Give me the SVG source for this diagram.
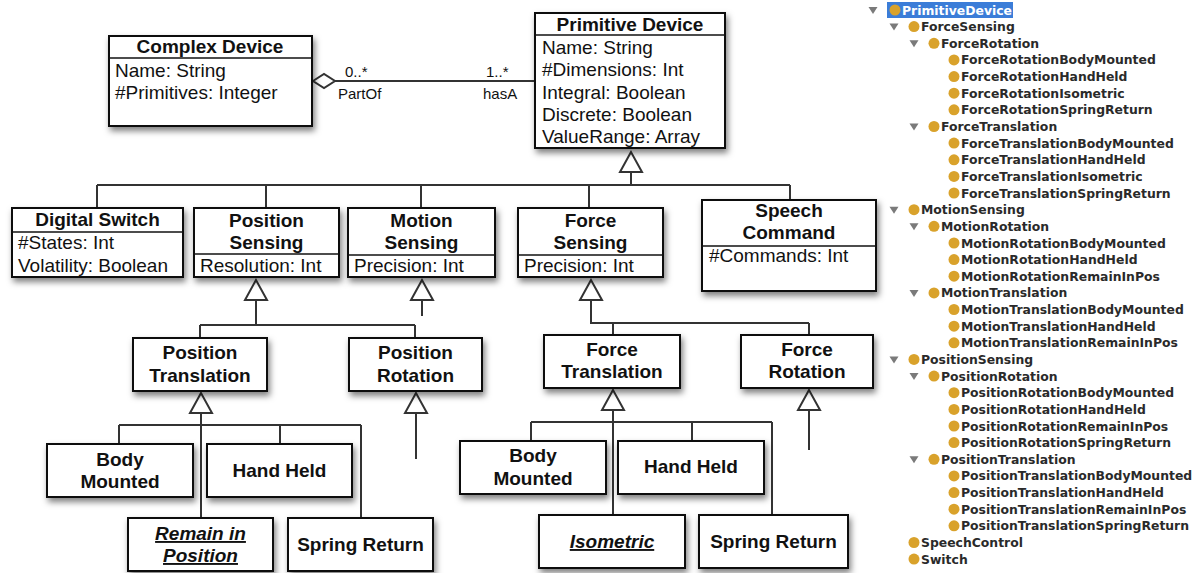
<svg xmlns="http://www.w3.org/2000/svg" width="1202" height="573" viewBox="0 0 1202 573">
  <defs>
    <filter id="shadow" x="-10%" y="-10%" width="130%" height="140%">
      <feDropShadow dx="2" dy="4" stdDeviation="3" flood-color="#000" flood-opacity="0.5"/>
    </filter>
    <style>
      .box { fill: #fff; stroke: #111; stroke-width: 2; }
      .div { stroke: #111; stroke-width: 1.6; }
      .title { font-family: "Liberation Sans", Arial, sans-serif; font-weight: bold; font-size: 19px; fill: #111; text-anchor: middle; }
      .attr { font-family: "Liberation Sans", Arial, sans-serif; font-size: 19px; fill: #111; }
      .em { font-style: italic; text-decoration: underline; }
      .lbl { font-family: "Liberation Sans", Arial, sans-serif; font-size: 15px; fill: #111; }
      .wire { fill: none; stroke: #333; stroke-width: 2; }
      .gen { fill: #fff; stroke: #333; stroke-width: 2; stroke-linejoin: miter; }
      .tree { font-family: "DejaVu Sans", sans-serif; font-weight: bold; font-size: 12.4px; fill: #2a2a2a; }
      .dot { fill: #d9a22b; }
      .twisty { fill: #7a7a7a; }
    </style>
  </defs>

  <rect width="1202" height="573" fill="#fff"/>

  <!-- connectors: association and generalization trees -->
  <g id="connectors">
    <!-- Complex Device <>— Primitive Device -->
    <line class="wire" x1="335" y1="81" x2="535" y2="81"/>
    <polygon class="gen" points="313,81 324,74 335,81 324,88"/>
    <text class="lbl" x="345" y="77">0..*</text>
    <text class="lbl" x="338" y="99">PartOf</text>
    <text class="lbl" x="486" y="77">1..*</text>
    <text class="lbl" x="483" y="99">hasA</text>

    <!-- Primitive Device specializations -->
    <polyline class="wire" points="631,172 631,185"/>
    <line class="wire" x1="97" y1="185" x2="790" y2="185"/>
    <line class="wire" x1="97" y1="185" x2="97" y2="208"/>
    <line class="wire" x1="266" y1="185" x2="266" y2="208"/>
    <line class="wire" x1="421" y1="185" x2="421" y2="208"/>
    <line class="wire" x1="589" y1="185" x2="589" y2="208"/>
    <line class="wire" x1="790" y1="185" x2="790" y2="200"/>
    <polygon class="gen" points="631,152 620,172 642,172"/>

    <!-- Position Sensing -->
    <polyline class="wire" points="256,300 256,325"/>
    <line class="wire" x1="200" y1="325" x2="415" y2="325"/>
    <line class="wire" x1="200" y1="325" x2="200" y2="338"/>
    <line class="wire" x1="415" y1="325" x2="415" y2="338"/>
    <polygon class="gen" points="256,280 245,300 267,300"/>

    <!-- Motion Sensing -->
    <line class="wire" x1="422" y1="300" x2="422" y2="316"/>
    <polygon class="gen" points="422,280 411,300 433,300"/>

    <!-- Force Sensing -->
    <polyline class="wire" points="591,300 591,323 809,323"/>
    <line class="wire" x1="613" y1="323" x2="613" y2="335"/>
    <line class="wire" x1="809" y1="323" x2="809" y2="335"/>
    <polygon class="gen" points="591,280 580,300 602,300"/>

    <!-- Position Translation -->
    <line class="wire" x1="201" y1="413" x2="201" y2="518"/>
    <line class="wire" x1="119" y1="425" x2="361" y2="425"/>
    <line class="wire" x1="119" y1="425" x2="119" y2="444"/>
    <line class="wire" x1="280" y1="425" x2="280" y2="444"/>
    <line class="wire" x1="361" y1="425" x2="361" y2="518"/>
    <polygon class="gen" points="201,393 190,413 212,413"/>

    <!-- Position Rotation -->
    <line class="wire" x1="416" y1="413" x2="416" y2="459"/>
    <polygon class="gen" points="416,393 405,413 427,413"/>

    <!-- Force Translation -->
    <line class="wire" x1="613" y1="410" x2="613" y2="515"/>
    <line class="wire" x1="531" y1="422" x2="772" y2="422"/>
    <line class="wire" x1="531" y1="422" x2="531" y2="441"/>
    <line class="wire" x1="692" y1="422" x2="692" y2="441"/>
    <line class="wire" x1="772" y1="422" x2="772" y2="515"/>
    <polygon class="gen" points="613,390 602,410 624,410"/>

    <!-- Force Rotation -->
    <line class="wire" x1="809" y1="410" x2="809" y2="450"/>
    <polygon class="gen" points="809,390 798,410 820,410"/>
  </g>

  <!-- classes -->
  <g id="complex-device">
    <rect class="box" x="109" y="36" width="203" height="90" filter="url(#shadow)"/>
    <line class="div" x1="109" y1="58" x2="312" y2="58"/>
    <text class="title" x="210" y="53">Complex Device</text>
    <text class="attr" x="115" y="77">Name: String</text>
    <text class="attr" x="115" y="99">#Primitives: Integer</text>
  </g>

  <g id="primitive-device">
    <rect class="box" x="535" y="13" width="190" height="135" filter="url(#shadow)"/>
    <line class="div" x1="535" y1="35" x2="725" y2="35"/>
    <text class="title" x="630" y="31">Primitive Device</text>
    <text class="attr" x="542" y="54">Name: String</text>
    <text class="attr" x="542" y="76">#Dimensions: Int</text>
    <text class="attr" x="542" y="99">Integral: Boolean</text>
    <text class="attr" x="542" y="121">Discrete: Boolean</text>
    <text class="attr" x="542" y="143">ValueRange: Array</text>
  </g>

  <g id="digital-switch">
    <rect class="box" x="12" y="208" width="171" height="69" filter="url(#shadow)"/>
    <line class="div" x1="12" y1="232" x2="183" y2="232"/>
    <text class="title" x="97.5" y="226">Digital Switch</text>
    <text class="attr" x="18" y="249">#States: Int</text>
    <text class="attr" x="18" y="272">Volatility: Boolean</text>
  </g>

  <g id="position-sensing">
    <rect class="box" x="194" y="208" width="145" height="69" filter="url(#shadow)"/>
    <line class="div" x1="194" y1="254" x2="339" y2="254"/>
    <text class="title" x="266.5" y="227">Position</text>
    <text class="title" x="266.5" y="249">Sensing</text>
    <text class="attr" x="200" y="272">Resolution: Int</text>
  </g>

  <g id="motion-sensing">
    <rect class="box" x="348" y="208" width="147" height="69" filter="url(#shadow)"/>
    <line class="div" x1="348" y1="255" x2="495" y2="255"/>
    <text class="title" x="421.5" y="227">Motion</text>
    <text class="title" x="421.5" y="249">Sensing</text>
    <text class="attr" x="354" y="272">Precision: Int</text>
  </g>

  <g id="force-sensing">
    <rect class="box" x="518" y="208" width="145" height="69" filter="url(#shadow)"/>
    <line class="div" x1="518" y1="255" x2="663" y2="255"/>
    <text class="title" x="590.5" y="227">Force</text>
    <text class="title" x="590.5" y="249">Sensing</text>
    <text class="attr" x="524" y="272">Precision: Int</text>
  </g>

  <g id="speech-command">
    <rect class="box" x="702" y="200" width="174" height="91" filter="url(#shadow)"/>
    <line class="div" x1="702" y1="246" x2="876" y2="246"/>
    <text class="title" x="789" y="217">Speech</text>
    <text class="title" x="789" y="239">Command</text>
    <text class="attr" x="709" y="262">#Commands: Int</text>
  </g>

  <g id="position-translation">
    <rect class="box" x="133" y="338" width="134" height="53" filter="url(#shadow)"/>
    <text class="title" x="200" y="359">Position</text>
    <text class="title" x="200" y="382">Translation</text>
  </g>

  <g id="position-rotation">
    <rect class="box" x="349" y="338" width="133" height="53" filter="url(#shadow)"/>
    <text class="title" x="415.5" y="359">Position</text>
    <text class="title" x="415.5" y="382">Rotation</text>
  </g>

  <g id="force-translation">
    <rect class="box" x="544" y="335" width="136" height="53" filter="url(#shadow)"/>
    <text class="title" x="612" y="356">Force</text>
    <text class="title" x="612" y="378">Translation</text>
  </g>

  <g id="force-rotation">
    <rect class="box" x="741" y="335" width="132" height="53" filter="url(#shadow)"/>
    <text class="title" x="807" y="356">Force</text>
    <text class="title" x="807" y="378">Rotation</text>
  </g>

  <g id="pos-body-mounted">
    <rect class="box" x="47" y="444" width="146" height="53" filter="url(#shadow)"/>
    <text class="title" x="120" y="466">Body</text>
    <text class="title" x="120" y="488">Mounted</text>
  </g>

  <g id="pos-hand-held">
    <rect class="box" x="207" y="444" width="145" height="53" filter="url(#shadow)"/>
    <text class="title" x="279.5" y="477">Hand Held</text>
  </g>

  <g id="pos-remain-in-position">
    <rect class="box" x="128" y="518" width="145" height="53" filter="url(#shadow)"/>
    <text class="title em" x="200.5" y="540">Remain in</text>
    <text class="title em" x="200.5" y="562">Position</text>
  </g>

  <g id="pos-spring-return">
    <rect class="box" x="288" y="518" width="145" height="53" filter="url(#shadow)"/>
    <text class="title" x="360.5" y="551">Spring Return</text>
  </g>

  <g id="force-body-mounted">
    <rect class="box" x="460" y="441" width="146" height="53" filter="url(#shadow)"/>
    <text class="title" x="533" y="462">Body</text>
    <text class="title" x="533" y="485">Mounted</text>
  </g>

  <g id="force-hand-held">
    <rect class="box" x="618" y="441" width="146" height="53" filter="url(#shadow)"/>
    <text class="title" x="691" y="473">Hand Held</text>
  </g>

  <g id="force-isometric">
    <rect class="box" x="539" y="515" width="146" height="53" filter="url(#shadow)"/>
    <text class="title em" x="612" y="548">Isometric</text>
  </g>

  <g id="force-spring-return">
    <rect class="box" x="699" y="515" width="149" height="53" filter="url(#shadow)"/>
    <text class="title" x="773.5" y="548">Spring Return</text>
  </g>

  <!-- class hierarchy outline -->
  <g id="hierarchy">
    <rect x="887" y="2" width="126" height="16" fill="#3b7dd8"/>
    <polygon class="twisty" points="868.5,7 877.5,7 873,14"/>
    <circle class="dot" cx="895" cy="10" r="5.5"/>
    <text class="tree" x="902" y="14.5" fill="#fff" style="fill:#fff">PrimitiveDevice</text>

    <polygon class="twisty" points="889.5,23.6 898.5,23.6 894,30.6"/>
    <circle class="dot" cx="914" cy="26.6" r="5.5"/>
    <text class="tree" x="921" y="31.1">ForceSensing</text>

    <polygon class="twisty" points="909.5,40.3 918.5,40.3 914,47.3"/>
    <circle class="dot" cx="934" cy="43.3" r="5.5"/>
    <text class="tree" x="941" y="47.8">ForceRotation</text>

    <circle class="dot" cx="954" cy="59.9" r="5.5"/>
    <text class="tree" x="961" y="64.4">ForceRotationBodyMounted</text>
    <circle class="dot" cx="954" cy="76.6" r="5.5"/>
    <text class="tree" x="961" y="81.1">ForceRotationHandHeld</text>
    <circle class="dot" cx="954" cy="93.2" r="5.5"/>
    <text class="tree" x="961" y="97.7">ForceRotationIsometric</text>
    <circle class="dot" cx="954" cy="109.8" r="5.5"/>
    <text class="tree" x="961" y="114.3">ForceRotationSpringReturn</text>

    <polygon class="twisty" points="909.5,123.5 918.5,123.5 914,130.5"/>
    <circle class="dot" cx="934" cy="126.5" r="5.5"/>
    <text class="tree" x="941" y="131">ForceTranslation</text>

    <circle class="dot" cx="954" cy="143.1" r="5.5"/>
    <text class="tree" x="961" y="147.6">ForceTranslationBodyMounted</text>
    <circle class="dot" cx="954" cy="159.8" r="5.5"/>
    <text class="tree" x="961" y="164.3">ForceTranslationHandHeld</text>
    <circle class="dot" cx="954" cy="176.4" r="5.5"/>
    <text class="tree" x="961" y="180.9">ForceTranslationIsometric</text>
    <circle class="dot" cx="954" cy="193" r="5.5"/>
    <text class="tree" x="961" y="197.5">ForceTranslationSpringReturn</text>

    <polygon class="twisty" points="889.5,206.7 898.5,206.7 894,213.7"/>
    <circle class="dot" cx="914" cy="209.7" r="5.5"/>
    <text class="tree" x="921" y="214.2">MotionSensing</text>

    <polygon class="twisty" points="909.5,223.3 918.5,223.3 914,230.3"/>
    <circle class="dot" cx="934" cy="226.3" r="5.5"/>
    <text class="tree" x="941" y="230.8">MotionRotation</text>

    <circle class="dot" cx="954" cy="243" r="5.5"/>
    <text class="tree" x="961" y="247.5">MotionRotationBodyMounted</text>
    <circle class="dot" cx="954" cy="259.6" r="5.5"/>
    <text class="tree" x="961" y="264.1">MotionRotationHandHeld</text>
    <circle class="dot" cx="954" cy="276.2" r="5.5"/>
    <text class="tree" x="961" y="280.7">MotionRotationRemainInPos</text>

    <polygon class="twisty" points="909.5,289.9 918.5,289.9 914,296.9"/>
    <circle class="dot" cx="934" cy="292.9" r="5.5"/>
    <text class="tree" x="941" y="297.4">MotionTranslation</text>

    <circle class="dot" cx="954" cy="309.5" r="5.5"/>
    <text class="tree" x="961" y="314">MotionTranslationBodyMounted</text>
    <circle class="dot" cx="954" cy="326.2" r="5.5"/>
    <text class="tree" x="961" y="330.7">MotionTranslationHandHeld</text>
    <circle class="dot" cx="954" cy="342.8" r="5.5"/>
    <text class="tree" x="961" y="347.3">MotionTranslationRemainInPos</text>

    <polygon class="twisty" points="889.5,356.4 898.5,356.4 894,363.4"/>
    <circle class="dot" cx="914" cy="359.4" r="5.5"/>
    <text class="tree" x="921" y="363.9">PositionSensing</text>

    <polygon class="twisty" points="909.5,373.1 918.5,373.1 914,380.1"/>
    <circle class="dot" cx="934" cy="376.1" r="5.5"/>
    <text class="tree" x="941" y="380.6">PositionRotation</text>

    <circle class="dot" cx="954" cy="392.7" r="5.5"/>
    <text class="tree" x="961" y="397.2">PositionRotationBodyMounted</text>
    <circle class="dot" cx="954" cy="409.4" r="5.5"/>
    <text class="tree" x="961" y="413.9">PositionRotationHandHeld</text>
    <circle class="dot" cx="954" cy="426" r="5.5"/>
    <text class="tree" x="961" y="430.5">PositionRotationRemainInPos</text>
    <circle class="dot" cx="954" cy="442.6" r="5.5"/>
    <text class="tree" x="961" y="447.1">PositionRotationSpringReturn</text>

    <polygon class="twisty" points="909.5,456.3 918.5,456.3 914,463.3"/>
    <circle class="dot" cx="934" cy="459.3" r="5.5"/>
    <text class="tree" x="941" y="463.8">PositionTranslation</text>

    <circle class="dot" cx="954" cy="475.9" r="5.5"/>
    <text class="tree" x="961" y="480.4">PositionTranslationBodyMounted</text>
    <circle class="dot" cx="954" cy="492.6" r="5.5"/>
    <text class="tree" x="961" y="497.1">PositionTranslationHandHeld</text>
    <circle class="dot" cx="954" cy="509.2" r="5.5"/>
    <text class="tree" x="961" y="513.7">PositionTranslationRemainInPos</text>
    <circle class="dot" cx="954" cy="525.8" r="5.5"/>
    <text class="tree" x="961" y="530.3">PositionTranslationSpringReturn</text>

    <circle class="dot" cx="914" cy="542.5" r="5.5"/>
    <text class="tree" x="921" y="547">SpeechControl</text>
    <circle class="dot" cx="914" cy="559.1" r="5.5"/>
    <text class="tree" x="921" y="563.6">Switch</text>
  </g>
</svg>
